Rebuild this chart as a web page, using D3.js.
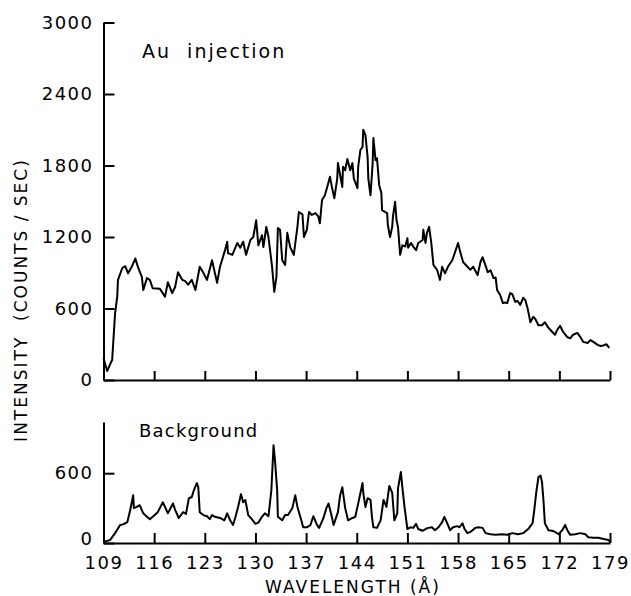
<!DOCTYPE html>
<html lang="en">
<head>
<meta charset="utf-8">
<title>Au injection spectrum</title>
<script src="https://cdn.jsdelivr.net/npm/d3@7"></script>
<style>
  body { margin: 0; background: #fff; }
  svg text { font-family: "DejaVu Sans", sans-serif; fill: #000; }
  .axis path, .axis line { stroke: #000; stroke-width: 2; }
  .axis text { font-size: 18px; letter-spacing: 1.5px; }
  .trace { fill: none; stroke: #000; stroke-width: 2; stroke-linejoin: round; }
</style>
</head>
<body>
<svg class="chart"></svg>
<script>
// wavelength (A) ticks shared by both panels
var xTicks = [109, 116, 123, 130, 137, 144, 151, 158, 165, 172, 179];
var auTicks = [0, 600, 1200, 1800, 2400, 3000];
var bgTicks = [0, 600];

// Au injection trace
var auWave = [109.0, 109.5, 110.2, 110.6, 110.9, 111.0, 111.6, 112.0, 112.4, 112.9, 113.4, 113.8, 114.3, 114.5, 115.0, 115.4, 115.8, 116.8, 117.5, 117.9,
  118.5, 118.9, 119.3, 119.9, 120.3, 120.7, 121.2, 121.7, 122.3, 122.8, 123.3, 124.0, 124.7, 125.1, 125.8, 126.1, 126.2, 126.8, 127.5, 127.9,
  128.3, 128.7, 129.3, 129.7, 130.1, 130.4, 130.9, 131.1, 131.5, 131.8, 132.3, 132.6, 132.9, 133.1, 133.4, 133.7, 134.1, 134.4, 134.8, 135.3,
  135.8, 136.0, 136.5, 136.7, 137.1, 137.4, 137.8, 138.3, 138.7, 138.9, 139.2, 139.6, 140.1, 140.3, 140.6, 140.9, 141.3, 141.4, 141.7, 142.0,
  142.1, 142.4, 142.7, 143.1, 143.4, 143.6, 144.1, 144.2, 144.5, 144.8, 144.9, 145.2, 145.5, 145.6, 145.9, 146.2, 146.3, 146.6, 146.8, 147.1,
  147.4, 147.5, 147.9, 148.2, 148.3, 148.6, 148.9, 149.0, 149.3, 149.5, 149.7, 150.0, 150.3, 150.7, 151.0, 151.1, 151.5, 151.8, 152.2, 152.5,
  153.1, 153.2, 153.5, 153.7, 154.0, 154.3, 154.6, 155.1, 155.5, 155.8, 156.2, 156.6, 157.2, 157.6, 158.0, 158.3, 158.7, 159.3, 159.7, 160.1,
  160.7, 161.1, 161.4, 161.8, 162.1, 162.5, 162.9, 163.2, 163.4, 163.8, 164.2, 164.5, 164.8, 165.2, 165.5, 165.9, 166.2, 166.6, 167.0, 167.3,
  167.6, 168.0, 168.4, 168.7, 169.1, 169.6, 170.0, 170.4, 171.0, 171.4, 171.7, 172.1, 172.5, 173.1, 173.5, 173.9, 174.5, 174.9, 175.3, 175.9,
  176.3, 176.7, 177.3, 177.7, 178.1, 178.5, 178.9];
var auCounts = [185, 75, 170, 560, 700, 840, 940, 955, 895, 950, 1020, 940, 865, 755, 855, 840, 770, 765, 700, 820,
  730, 780, 905, 840, 830, 800, 840, 755, 950, 900, 840, 1005, 815, 950, 1090, 1160, 1065, 1050, 1150, 1110,
  1160, 1050, 1175, 1200, 1340, 1130, 1215, 1115, 1285, 1200, 950, 740, 865, 1275, 1260, 1005, 965, 1235, 1115, 1050,
  1285, 1410, 1390, 1200, 1260, 1410, 1385, 1400, 1370, 1315, 1510, 1550, 1660, 1705, 1610, 1525, 1690, 1820, 1720, 1620,
  1790, 1760, 1855, 1760, 1820, 1690, 1610, 1790, 1930, 1955, 2100, 2055, 1870, 1690, 1550, 1820, 2030, 1845, 1860, 1635,
  1570, 1425, 1410, 1400, 1300, 1200, 1285, 1370, 1495, 1340, 1285, 1050, 1130, 1120, 1190, 1110, 1150, 1120, 1090, 1150,
  1175, 1260, 1150, 1235, 1285, 1150, 965, 925, 840, 950, 895, 950, 1005, 1075, 1150, 1075, 990, 950, 925, 950,
  880, 990, 1030, 960, 905, 920, 855, 860, 755, 715, 645, 650, 645, 730, 720, 655, 665, 630, 690, 670,
  605, 485, 530, 510, 460, 460, 485, 445, 405, 380, 420, 455, 405, 360, 350, 380, 395, 360, 320, 310,
  335, 320, 295, 285, 290, 300, 270];

// background trace
var bgWave = [109.0, 109.9, 110.6, 111.3, 111.7, 112.3, 112.7, 113.1, 113.2, 113.6, 114.0, 114.5, 115.0, 115.4, 115.8, 116.5, 117.2, 117.5, 117.9, 118.6,
  118.9, 119.4, 120.0, 120.4, 120.8, 121.2, 121.5, 121.9, 122.1, 122.3, 122.8, 123.3, 123.7, 124.0, 124.4, 125.1, 125.7, 126.1, 126.5, 126.9,
  127.2, 127.6, 128.0, 128.3, 128.6, 129.0, 129.5, 130.0, 130.4, 130.9, 131.3, 131.8, 132.2, 132.5, 132.7, 133.0, 133.1, 133.7, 134.1, 134.5,
  135.1, 135.5, 135.8, 136.2, 136.6, 137.1, 137.6, 138.0, 138.5, 138.8, 139.4, 139.8, 140.1, 140.5, 140.8, 141.4, 141.7, 142.0, 142.4, 142.8,
  143.4, 143.8, 144.2, 144.8, 144.9, 145.2, 145.5, 145.9, 146.1, 146.3, 146.8, 147.3, 147.7, 148.1, 148.5, 148.9, 149.2, 149.6, 149.7, 150.1,
  150.3, 150.6, 151.0, 151.4, 151.8, 152.2, 152.5, 153.1, 153.5, 153.9, 154.4, 154.8, 155.3, 155.8, 156.1, 156.5, 156.9, 157.3, 157.9, 158.2,
  158.6, 158.9, 159.3, 159.7, 160.4, 160.8, 161.4, 161.8, 162.5, 163.2, 164.1, 164.8, 165.5, 166.3, 167.0, 167.7, 168.3, 168.5, 168.8, 169.1,
  169.4, 169.6, 169.8, 170.0, 170.5, 171.0, 171.4, 171.9, 172.4, 172.8, 173.1, 173.5, 174.2, 174.9, 175.6, 176.0, 176.7, 177.4, 178.1, 178.8, 179.0];
var bgCounts = [10, 25, 85, 155, 160, 180, 285, 410, 300, 310, 325, 255, 225, 205, 225, 265, 350, 310, 255, 340,
  285, 215, 265, 250, 385, 395, 455, 515, 480, 265, 240, 230, 205, 240, 225, 215, 195, 255, 195, 155,
  215, 310, 420, 350, 370, 240, 205, 165, 175, 225, 255, 230, 455, 840, 710, 455, 225, 195, 240, 240,
  300, 410, 310, 225, 135, 135, 155, 230, 155, 130, 215, 300, 340, 240, 155, 265, 410, 480, 300, 195,
  215, 225, 340, 515, 430, 310, 385, 370, 225, 135, 130, 195, 370, 310, 490, 430, 195, 255, 470, 610,
  480, 310, 120, 135, 130, 165, 120, 105, 120, 130, 135, 110, 135, 180, 225, 170, 110, 135, 145, 135,
  170, 120, 85, 95, 130, 135, 130, 85, 75, 70, 75, 70, 85, 75, 85, 120, 170, 265, 430, 565,
  580, 525, 370, 170, 110, 105, 95, 75, 110, 155, 110, 70, 75, 85, 75, 50, 45, 45, 35, 25, 10];

var W = 631, H = 596;
var svg = d3.select(".chart").attr("width", W).attr("height", H);

var x = d3.scaleLinear().domain([109, 179]).range([103.5, 610]);
var yAu = d3.scaleLinear().domain([0, 3000]).range([380, 22.5]);
var yBg = d3.scaleLinear().domain([0, 1040]).range([543, 422]);
var fmt = d3.format("d");

var auData = auWave.map(function(w, i) { return {w: w, v: auCounts[i]}; });
var bgData = bgWave.map(function(w, i) { return {w: w, v: bgCounts[i]}; });

// top panel axes
svg.append("g")
    .attr("class", "axis")
    .attr("transform", "translate(0," + yAu(0) + ")")
    .call(d3.axisBottom(x).tickValues(xTicks).tickSize(-9).tickSizeOuter(0).tickFormat(""));

svg.append("g")
    .attr("class", "axis")
    .attr("transform", "translate(" + x(109) + ",0)")
    .call(d3.axisLeft(yAu).tickValues(auTicks).tickFormat(fmt).tickSize(-11).tickSizeOuter(0).tickPadding(10));

// bottom panel axes
svg.append("g")
    .attr("class", "axis")
    .attr("transform", "translate(0," + yBg(0) + ")")
    .call(d3.axisBottom(x).tickValues(xTicks).tickFormat(fmt).tickSize(-10).tickSizeOuter(0).tickPadding(13));

var bgLeft = svg.append("g")
    .attr("class", "axis")
    .attr("transform", "translate(" + x(109) + ",0)")
    .call(d3.axisLeft(yBg).tickValues(bgTicks).tickFormat(fmt).tickSize(-11).tickSizeOuter(0).tickPadding(10));

// nudge the bottom "0" up a little so it clears the 109 label
bgLeft.selectAll(".tick text").filter(function(d) { return d === 0; }).attr("y", -4);

svg.selectAll(".axis text").attr("fill", "#000");

var line = function(y) {
  return d3.line().x(function(d) { return x(d.w); }).y(function(d) { return y(d.v); });
};

svg.append("path").datum(auData).attr("class", "trace").attr("d", line(yAu));
svg.append("path").datum(bgData).attr("class", "trace").attr("d", line(yBg));

// labels
svg.append("text").attr("x", 142).attr("y", 58)
    .style("font-size", "19px").style("letter-spacing", "2px")
    .attr("xml:space", "preserve").text("Au  injection");

svg.append("text").attr("x", 139).attr("y", 437)
    .style("font-size", "18px").style("letter-spacing", "1.2px")
    .text("Background");

svg.append("text").attr("x", 353).attr("y", 593)
    .attr("text-anchor", "middle")
    .style("font-size", "17px").style("letter-spacing", "2px")
    .text("WAVELENGTH (\u00c5)");

svg.append("text")
    .attr("transform", "translate(27,300) rotate(-90)")
    .attr("text-anchor", "middle")
    .style("font-size", "17px").style("letter-spacing", "2px")
    .attr("xml:space", "preserve")
    .text("INTENSITY  (COUNTS / SEC)");
</script>
</body>
</html>
